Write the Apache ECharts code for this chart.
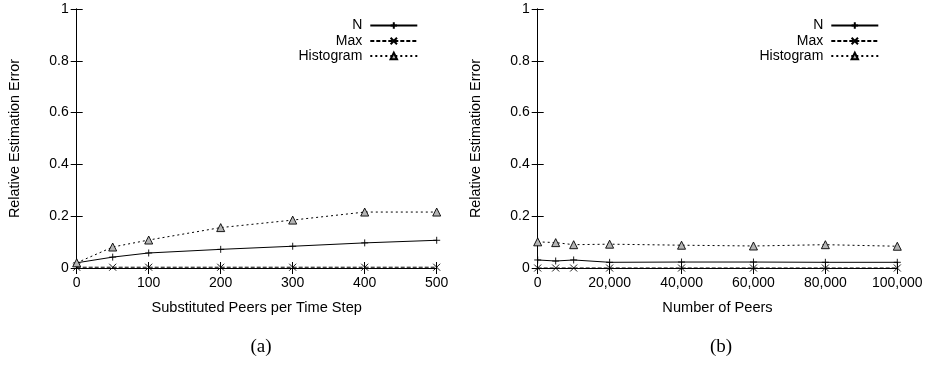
<!DOCTYPE html>
<html>
<head>
<meta charset="utf-8">
<script src="https://cdn.jsdelivr.net/npm/echarts@6/dist/echarts.min.js"></script>
<style>html,body{margin:0;padding:0;background:#fff}#c{width:928px;height:374px}</style>
</head>
<body>
<div id="c"></div>
<script>
// ---- data ----
var xA = [0, 50, 100, 200, 300, 400, 500];
var nA = [0.02, 0.042, 0.058, 0.072, 0.084, 0.097, 0.107];
var maxA = [0.003, 0.003, 0.003, 0.003, 0.003, 0.003, 0.003];
var histA = [0.02, 0.081, 0.108, 0.156, 0.185, 0.216, 0.216];

var xB = [0, 5000, 10000, 20000, 40000, 60000, 80000, 100000];
var nB = [0.031, 0.027, 0.031, 0.022, 0.023, 0.023, 0.022, 0.022];
var maxB = [0, 0, 0, 0, 0, 0, 0, 0];
var histB = [0.101, 0.098, 0.09, 0.092, 0.088, 0.085, 0.09, 0.084];

var seriesNames = ['N', 'Max', 'Histogram'];
var yTitle = 'Relative Estimation Error';
var xTitleA = 'Substituted Peers per Time Step';
var xTitleB = 'Number of Peers';
var captions = ['(a)', '(b)'];

function zip(xs, ys) { return xs.map(function (x, i) { return [x, ys[i]]; }); }

var FONT = 'Liberation Sans';
var plusPath = 'path://M5,0 L5,10 M0,5 L10,5';
var crossPath = 'path://M0,0 L10,10 M0,10 L10,0';
var triPath = 'path://M5,0 L10,9 L0,9 Z';

function mkSeries(name, data, g) {
  var cfg = {
    N: { symbol: plusPath, type: 'solid', fill: 'rgba(0,0,0,0)' },
    Max: { symbol: crossPath, type: [4, 2], fill: 'rgba(0,0,0,0)' },
    Histogram: { symbol: triPath, type: [2, 3], fill: '#b4b4b4' }
  }[name];
  return {
    name: name, type: 'line', xAxisIndex: g * 2, yAxisIndex: g * 2,
    data: data, symbol: cfg.symbol, symbolSize: name === 'Histogram' ? 8 : 7,
    showSymbol: true, animation: false, silent: true,
    lineStyle: { color: '#000', width: 1, type: cfg.type },
    itemStyle: { color: cfg.fill, borderColor: '#000', borderWidth: 0.9 },
    z: 3
  };
}

var grids = [
  { left: 76.7, right: 491.3, top: 9, bottom: 106 },
  { left: 537.7, right: 30.7, top: 9, bottom: 106 }
];

function xAxes(g, max, interval, name, fmt) {
  var common = {
    type: 'value', gridIndex: g, min: 0, max: max, interval: interval,
    axisLine: { lineStyle: { color: '#000', width: 1 } },
    axisTick: { inside: true, length: 6, lineStyle: { color: '#000' } },
    splitLine: { show: false }
  };
  return [
    Object.assign({}, common, {
      position: 'bottom', name: name, nameLocation: 'middle', nameGap: 32,
      nameTextStyle: { fontFamily: FONT, fontSize: 14.6, color: '#000' },
      axisLabel: { fontFamily: FONT, fontSize: 14, color: '#000', margin: 8, formatter: fmt }
    }),
    Object.assign({}, common, { position: 'top', axisLabel: { show: false } })
  ];
}
function yAxes(g) {
  var common = {
    type: 'value', gridIndex: g, min: 0, max: 1, interval: 0.2,
    axisLine: { show: true, lineStyle: { color: '#000', width: 1 } },
    axisTick: { show: true, inside: true, length: 6, lineStyle: { color: '#000' } },
    splitLine: { show: false }
  };
  return [
    Object.assign({}, common, {
      position: 'left', name: yTitle, nameLocation: 'middle', nameGap: 55,
      nameTextStyle: { fontFamily: FONT, fontSize: 14.4, color: '#000' },
      axisLabel: { fontFamily: FONT, fontSize: 14, color: '#000', margin: 8 }
    }),
    Object.assign({}, common, { position: 'right', axisLabel: { show: false } })
  ];
}

var fmtA = function (v) { return String(v); };
var fmtB = function (v) { return v.toLocaleString('en-US'); };

var legends = [];
var legendRight = [509.7, 48.7];
var legendTop = [18.5, 34, 49];
[0, 1].forEach(function (g) {
  seriesNames.forEach(function (nm, i) {
    legends.push({
      data: [nm], right: legendRight[g], top: legendTop[i], align: 'right',
      itemWidth: 47, itemHeight: 8, selectedMode: false, padding: 0,
      textStyle: { fontFamily: FONT, fontSize: 14, color: '#000', padding: [0, 3, 0, 0] }
    });
  });
});

var option = {
  backgroundColor: '#fff',
  animation: false,
  grid: grids,
  xAxis: xAxes(0, 500, 100, xTitleA, fmtA).concat(xAxes(1, 100000, 20000, xTitleB, fmtB)),
  yAxis: yAxes(0).concat(yAxes(1)),
  legend: legends,
  title: [
    { text: captions[0], left: 256, top: 333, textAlign: 'center',
      textStyle: { fontFamily: 'Liberation Serif', fontSize: 19, fontWeight: 'normal', color: '#000' } },
    { text: captions[1], left: 716, top: 333, textAlign: 'center',
      textStyle: { fontFamily: 'Liberation Serif', fontSize: 19, fontWeight: 'normal', color: '#000' } }
  ],
  series: [
    mkSeries('N', zip(xA, nA), 0),
    mkSeries('Max', zip(xA, maxA), 0),
    mkSeries('Histogram', zip(xA, histA), 0),
    mkSeries('N', zip(xB, nB), 1),
    mkSeries('Max', zip(xB, maxB), 1),
    mkSeries('Histogram', zip(xB, histB), 1)
  ]
};
var chart = echarts.init(document.getElementById('c'), null, { renderer: 'canvas' });
chart.setOption(option);
</script>
</body>
</html>
